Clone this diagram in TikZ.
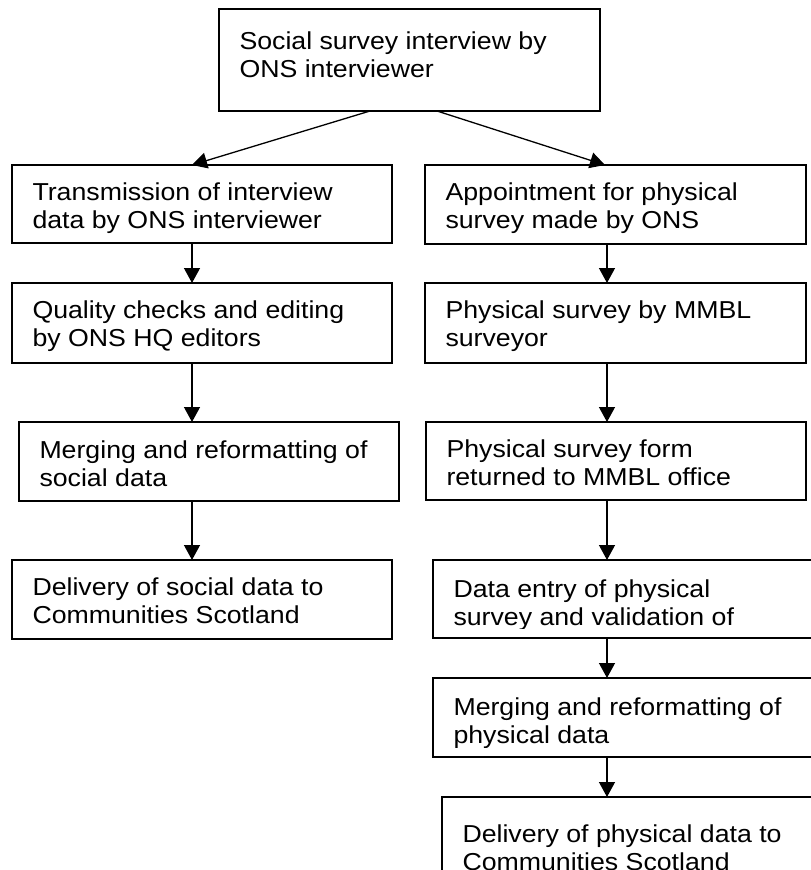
\documentclass[tikz,border=0pt]{standalone}
\usepackage{fontspec}
\setmainfont[FakeStretch=1.09]{Liberation Sans}
\usetikzlibrary{arrows.meta,calc}
\tikzset{
  box/.style={draw, line width=1.8pt, rectangle, anchor=north west, outer sep=0pt, inner sep=0pt},
  flow/.style={line width=1.3pt, -{Triangle[width=16pt,length=15pt]}},
  lbl/.style={anchor=base west, inner sep=0pt, outer sep=0pt, font=\fontsize{24.5}{28.5}\selectfont},
}
% name, x, y, w, h, dy, line1, line2
\newcommand\flowbox[8]{%
  \node[box, minimum width=#4pt, minimum height=#5pt] (#1) at (#2,#3) {};
  \begin{scope}
    \clip (#1.north west) rectangle ([yshift=10pt]#1.south east);
    \node[lbl] (#1t) at ([xshift=20.5pt,yshift=-#6pt]#1.north west) {\vtop{\hbox{#7}\hbox{#8}}};
  \end{scope}
}
\begin{document}
\begin{tikzpicture}[x=1pt,y=-1pt]
\useasboundingbox (0,0) rectangle (811,870);
\clip (0,0) rectangle (811,870);
\fill[white] (0,0) rectangle (811,870);
\flowbox{T}{219}{9}{381}{102}{40}{Social survey interview by}{ONS interviewer}
\flowbox{L1}{12}{165}{380}{78}{35}{Transmission of interview}{data by ONS interviewer}
\flowbox{L2}{12}{283}{380}{80}{35}{Quality checks and editing}{by ONS HQ editors}
\flowbox{L3}{19}{422}{380}{79}{36}{Merging and reformatting of}{social data}
\flowbox{L4}{12}{560}{380}{79}{35}{Delivery of social data to}{Communities Scotland}
\flowbox{R1}{425}{165}{381}{79}{35}{Appointment for physical}{survey made by ONS}
\flowbox{R2}{425}{283}{381}{80}{35}{Physical survey by MMBL}{surveyor}
\flowbox{R3}{426}{422}{380}{78}{35}{Physical survey form}{returned to MMBL office}
\flowbox{R4}{433}{560}{400}{78}{37}{Data entry of physical}{survey and validation of}
\flowbox{R5}{433}{678}{400}{79}{37}{Merging and reformatting of}{physical data}
\flowbox{R6}{442}{797}{400}{100}{45}{Delivery of physical data to}{Communities Scotland}
\coordinate (lx) at (192,0);
\coordinate (rx) at (607,0);
\coordinate (tl) at (370,0);
\coordinate (tr) at (437,0);
\coordinate (rt) at (605,0);
\draw[flow] (T.south -| tl) -- (L1.north -| lx);
\draw[flow] (T.south -| tr) -- (R1.north -| rt);
\draw[flow] (L1.south -| lx) -- (L2.north -| lx);
\draw[flow] (L2.south -| lx) -- (L3.north -| lx);
\draw[flow] (L3.south -| lx) -- (L4.north -| lx);
\draw[flow] (R1.south -| rx) -- (R2.north -| rx);
\draw[flow] (R2.south -| rx) -- (R3.north -| rx);
\draw[flow] (R3.south -| rx) -- (R4.north -| rx);
\draw[flow] (R4.south -| rx) -- (R5.north -| rx);
\draw[flow] (R5.south -| rx) -- (R6.north -| rx);
\end{tikzpicture}
\end{document}
